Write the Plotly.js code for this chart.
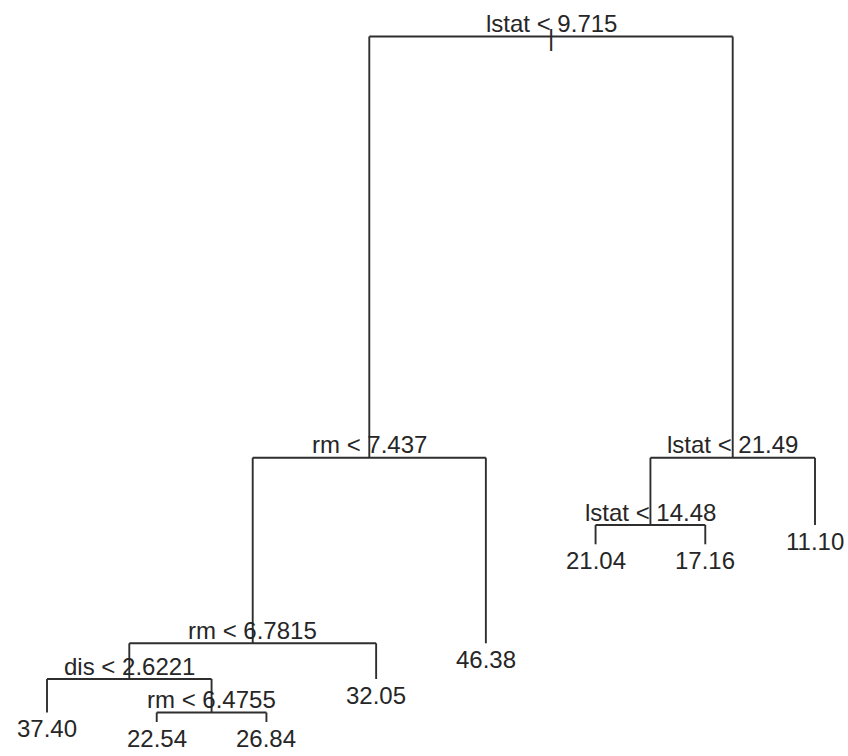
<!DOCTYPE html>
<html>
<head>
<meta charset="utf-8">
<script src="https://cdn.plot.ly/plotly-3.0.1.min.js"></script>
<style>html,body{margin:0;padding:0;background:#fff;}#chart{width:848px;height:756px;}</style>
</head>
<body>
<div id="chart"></div>
<script>
// Regression tree (R "tree" style), nodes numbered as in R: children of n are 2n and 2n+1
const nodeIds     = [1, 2, 4, 8, 16, 17, 34, 35, 9, 5, 3, 6, 12, 13, 7];
const nodeLabels  = ["lstat < 9.715", "rm < 7.437", "rm < 6.7815", "dis < 2.6221", "37.40",
                     "rm < 6.4755", "22.54", "26.84", "32.05", "46.38",
                     "lstat < 21.49", "lstat < 14.48", "21.04", "17.16", "11.10"];
// node heights (proportional to deviance)
const nodeHeight  = [719.5, 298.3, 112.7, 77, 43.5, 43.5, 34, 34, 77, 112.7, 298.3, 231, 211.7, 211.7, 231];

// ---- layout of the tree (leaves evenly spaced in order) ----
const height = {}, label = {};
nodeIds.forEach((id, i) => { height[id] = nodeHeight[i]; label[id] = nodeLabels[i]; });
const isLeaf = id => !(2 * id in height);
const xpos = {};
let leafRank = 0;
function place(id) {
  if (isLeaf(id)) { leafRank += 1; xpos[id] = leafRank; return; }
  place(2 * id); place(2 * id + 1);
  xpos[id] = (xpos[2 * id] + xpos[2 * id + 1]) / 2;
}
place(1);

const lx = [], ly = [];
nodeIds.forEach(id => {
  if (id > 1) {
    const p = Math.floor(id / 2);
    lx.push(xpos[id], xpos[id], null);
    ly.push(height[p], height[id], null);
  }
  if (!isLeaf(id)) {
    lx.push(xpos[2 * id], xpos[2 * id + 1], null);
    ly.push(height[id], height[id], null);
  }
});

const font = {family: "Liberation Sans, Arial, sans-serif", size: 24, color: "#262626"};
const annotations = nodeIds.map(id => ({
  x: xpos[id], y: height[id], xref: "x", yref: "y",
  text: label[id], showarrow: false, font: font,
  xanchor: "center", yanchor: "middle",
  yshift: isLeaf(id) ? -16 : 13
}));
annotations.push({x: xpos[1], y: height[1], xref: "x", yref: "y", text: "|",
  showarrow: false, font: font, xanchor: "center", yanchor: "middle", yshift: -1});

const trace = {x: lx, y: ly, mode: "lines", type: "scatter",
  line: {color: "#2e2e2e", width: 1.9}, hoverinfo: "skip", showlegend: false};

const layout = {
  width: 848, height: 756,
  margin: {l: 0, r: 0, t: 0, b: 0},
  paper_bgcolor: "#ffffff", plot_bgcolor: "#ffffff",
  xaxis: {range: [0.5716, 8.3008], visible: false, fixedrange: true},
  yaxis: {range: [0, 756], visible: false, fixedrange: true},
  annotations: annotations,
  showlegend: false
};
Plotly.newPlot("chart", [trace], layout, {staticPlot: true, displayModeBar: false});
</script>
</body>
</html>
